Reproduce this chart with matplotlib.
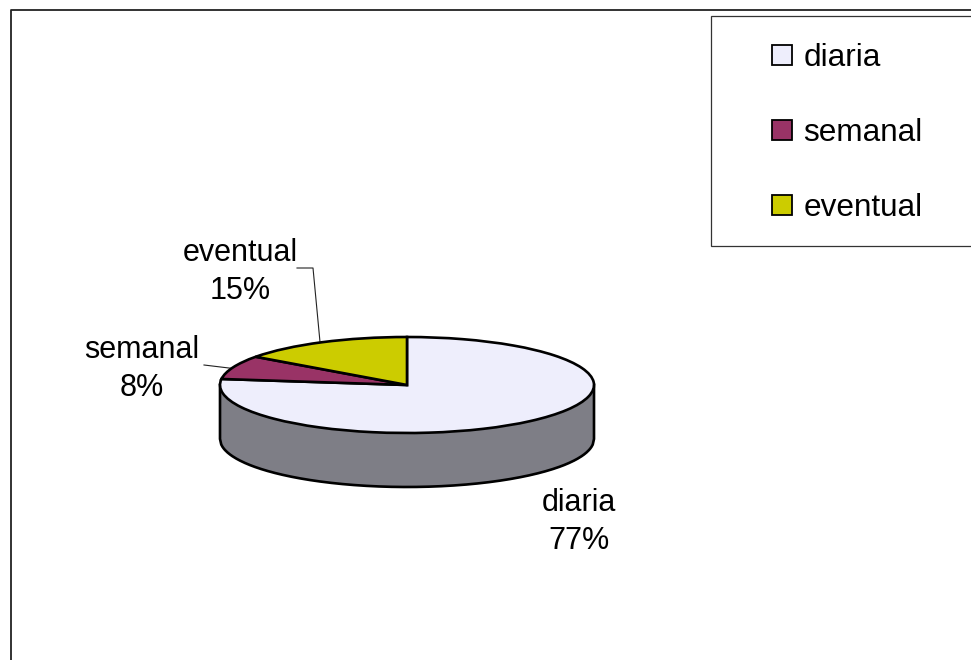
import numpy as np
import matplotlib
matplotlib.use("Agg")
import matplotlib.pyplot as plt
from matplotlib.patches import Rectangle

# data
names=["diaria","semanal","eventual"]
shares=[77,8,15]

# style
FS=22
plt.rcParams['font.family']=['Liberation Sans','DejaVu Sans']
plt.rcParams['font.size']=FS
colors=['#EEEEFC','#993366','#CCCC00']
wall='#7E7E86'
W,H=971,660

f0=plt.figure(figsize=(W/100,H/100),dpi=100)

# page in pixel coordinates
ax0=f0.add_axes([0,0,1,1])
ax0.set_xlim(0,W);ax0.set_ylim(H,0);ax0.axis('off')
ax0.plot([11,11,W],[H,9.5,9.5],color='#222222',lw=1.3,solid_capstyle='butt')
ax0.add_patch(Rectangle((711,15.5),270,230,fc='white',ec='#333333',lw=0.9))

# flattened pie, unit radius stretched to the ellipse
cx,cy,rx,ry,depth=407,385,187,48,54
x0,x1,y0,y1=cx-200,cx+200,300,500
ax1=f0.add_axes([x0/W,1-y1/H,(x1-x0)/W,(y1-y0)/H])
ax1.patch.set_alpha(0)
wedges,_=ax1.pie(shares,colors=colors,startangle=90,counterclock=False,
                 wedgeprops=dict(edgecolor='black',linewidth=1.9,zorder=3))
ax1.set_aspect('auto')
ax1.set_xlim(-200/rx,200/rx)
ax1.set_ylim((cy-y1)/ry,(cy-y0)/ry)
ax1.axis('off')

# side wall
d=depth/ry
xs=np.linspace(-1,1,300)
rim=-np.sqrt(1-xs**2)
ax1.fill_between(xs,rim,rim-d,color=wall,lw=0,zorder=1)
ax1.plot(np.r_[-1,xs,1],np.r_[0,rim-d,0],color='black',lw=1.9,zorder=2)

# labels
label_pos=[(579,522),(142,369),(240,272)]
for n0,s0,p0 in zip(names,shares,label_pos):
    ax0.text(p0[0],p0[1],n0+"\n"+str(s0)+"%",ha='center',va='center',linespacing=1.31,color='black')

# leader lines
ax0.plot([297,313,320],[268,268,342],color='#222222',lw=0.8)
ax0.plot([204,233],[365,368.5],color='#222222',lw=0.8)

# legend
leg=ax0.legend(wedges,names,loc='upper left',bbox_to_anchor=(772/W,1-43/H),
               bbox_transform=f0.transFigure,frameon=False,borderpad=0,borderaxespad=0,fontsize=22.7,
               handlelength=0.63,handleheight=0.63,handletextpad=0.37,labelspacing=1.43)
for h0 in leg.get_patches():
    h0.set_linewidth(1.3)

f0.savefig("out.png",dpi=100)
